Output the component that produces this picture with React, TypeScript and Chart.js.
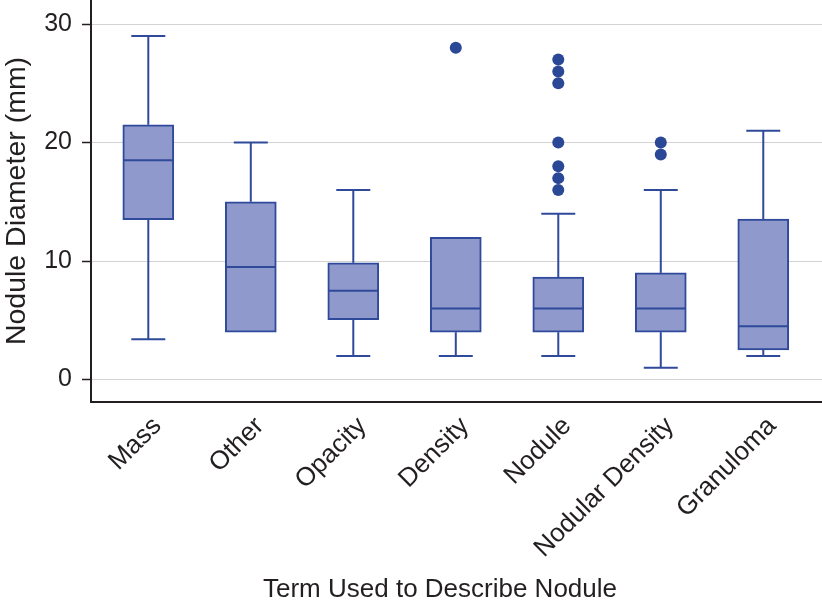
import React, { useEffect, useRef } from "react";
import { Chart, registerables } from "chart.js";

Chart.register(...registerables);

// ---- Data ----
const categories = ["Mass", "Other", "Opacity", "Density", "Nodule", "Nodular Density", "Granuloma"];
const whiskerLow = [3.4, 4, 2, 2, 2, 1, 2];
const q1 = [13.5, 4, 5.05, 4, 4, 4, 2.5];
const medians = [18.5, 9.5, 7.5, 6, 6, 6, 4.5];
const q3 = [21.5, 15, 9.85, 12, 8.65, 9, 13.55];
const whiskerHigh = [29, 20, 16, 12, 14, 16, 21];
const outlierCategory = [3, 4, 4, 4, 4, 4, 4, 4, 5, 5];
const outlierValues = [28, 27, 26, 25, 20, 18, 17, 16, 20, 19];
const yTicks = [0, 10, 20, 30];
const xTitle = "Term Used to Describe Nodule";
const yTitle = "Nodule Diameter (mm)";

// ---- Styles ----
const FONT = "'Liberation Sans', Arial, Helvetica, sans-serif";
const TEXT = "#231f20";
const BOX_FILL = "#8f99cc";
const BOX_STROKE = "#2f4a9a";
const OUTLIER = "#2a4896";
const BOX_WIDTH = 51;
const CAP_WIDTH = 34;

const whiskerPlugin = {
  id: "whiskers",
  afterDatasetsDraw(chart: any) {
    const xs = chart.scales.x;
    const ys = chart.scales.y;
    const ctx = chart.ctx;
    ctx.save();
    ctx.strokeStyle = BOX_STROKE;
    ctx.lineWidth = 2;
    const seg = (x1: number, y1: number, x2: number, y2: number) => {
      ctx.beginPath();
      ctx.moveTo(x1, y1);
      ctx.lineTo(x2, y2);
      ctx.stroke();
    };
    categories.forEach((_, i) => {
      const cx = xs.getPixelForValue(i);
      if (whiskerHigh[i] > q3[i]) {
        const yt = ys.getPixelForValue(whiskerHigh[i]);
        seg(cx, ys.getPixelForValue(q3[i]), cx, yt);
        seg(cx - CAP_WIDTH / 2, yt, cx + CAP_WIDTH / 2, yt);
      }
      if (whiskerLow[i] < q1[i]) {
        const yb = ys.getPixelForValue(whiskerLow[i]);
        seg(cx, ys.getPixelForValue(q1[i]), cx, yb);
        seg(cx - CAP_WIDTH / 2, yb, cx + CAP_WIDTH / 2, yb);
      }
      const ym = ys.getPixelForValue(medians[i]);
      seg(cx - BOX_WIDTH / 2 + 1, ym, cx + BOX_WIDTH / 2 - 1, ym);
    });
    ctx.restore();
  },
};

const xTitlePlugin = {
  id: "xTitle",
  afterDraw(chart: any) {
    const ctx = chart.ctx;
    ctx.save();
    ctx.font = `26px ${FONT}`;
    ctx.fillStyle = TEXT;
    ctx.textAlign = "center";
    ctx.textBaseline = "middle";
    ctx.fillText(xTitle, 440, 590);
    ctx.restore();
  },
};

export default function App() {
  const canvasRef = useRef<HTMLCanvasElement | null>(null);

  useEffect(() => {
    if (!canvasRef.current) return;
    const chart = new Chart(canvasRef.current, {
      type: "bar",
      data: {
        datasets: [
          {
            type: "bar",
            data: categories.map((_, i) => ({ x: i, y: [q1[i], q3[i]] })) as any,
            backgroundColor: BOX_FILL,
            borderColor: BOX_STROKE,
            borderWidth: 2,
            borderSkipped: false,
            barThickness: BOX_WIDTH,
          } as any,
          {
            type: "scatter",
            data: outlierValues.map((v, i) => ({ x: outlierCategory[i], y: v })),
            backgroundColor: OUTLIER,
            borderWidth: 0,
            pointRadius: 6,
          } as any,
        ],
      },
      options: {
        responsive: false,
        animation: false,
        layout: { padding: 0, autoPadding: false },
        plugins: { legend: { display: false }, tooltip: { enabled: false } },
        scales: {
          x: {
            type: "linear",
            offset: false,
            min: -0.559,
            max: 6.573,
            afterBuildTicks: (s: any) => {
              s.ticks = categories.map((_, i) => ({ value: i }));
            },
            afterFit: (s: any) => {
              s.height = 207;
              s.paddingLeft = 0;
              s.paddingRight = 0;
              s.paddingTop = 0;
              s.paddingBottom = 0;
            },
            grid: { display: false },
            border: { display: true, color: TEXT, width: 2 },
            ticks: {
              autoSkip: false,
              minRotation: 45,
              maxRotation: 45,
              padding: 1,
              labelOffset: 9,
              color: TEXT,
              font: { size: 26, family: FONT },
              callback: (v: any) => categories[v] ?? "",
            },
            title: { display: false },
          },
          y: {
            type: "linear",
            min: -1.89,
            max: 32.03,
            afterBuildTicks: (s: any) => {
              s.ticks = yTicks.map((v) => ({ value: v }));
            },
            afterFit: (s: any) => {
              s.width = 91;
              s.paddingLeft = 0;
              s.paddingRight = 0;
              s.paddingTop = 0;
              s.paddingBottom = 0;
            },
            grid: {
              color: "#d3d3d3",
              lineWidth: 1,
              drawTicks: true,
              tickLength: 9,
              tickColor: TEXT,
              tickWidth: 1.5,
            },
            border: { display: true, color: TEXT, width: 2 },
            ticks: {
              padding: 10,
              color: TEXT,
              font: { size: 25, family: FONT },
            },
            title: {
              display: true,
              text: yTitle,
              color: TEXT,
              font: { size: 28.5, family: FONT },
              padding: 0,
            },
          },
        },
      },
      plugins: [whiskerPlugin, xTitlePlugin],
    });
    return () => chart.destroy();
  }, []);

  return (
    <div style={{ position: "absolute", left: 0, top: 0, width: 822, height: 609, background: "#fff" }}>
      <canvas ref={canvasRef} width={822} height={609} />
    </div>
  );
}
